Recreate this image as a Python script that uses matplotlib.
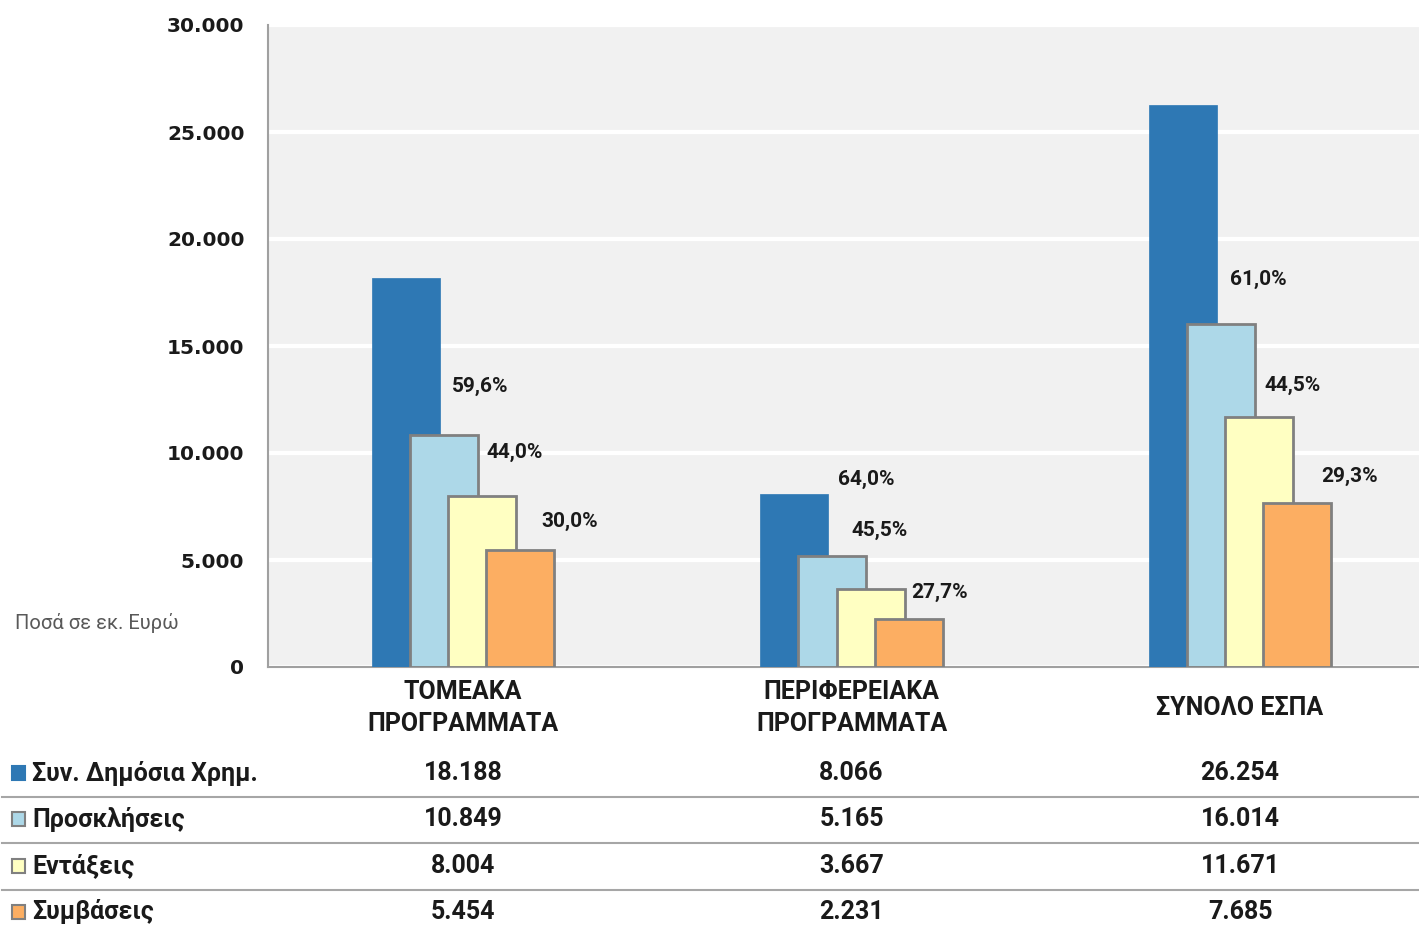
import matplotlib
matplotlib.use("Agg")
import matplotlib.pyplot as plt
from matplotlib.patches import Rectangle
from matplotlib.lines import Line2D
import numpy as np

# data (εκ. Ευρώ)
categories = ["ΤΟΜΕΑΚΑ\nΠΡΟΓΡΑΜΜΑΤΑ", "ΠΕΡΙΦΕΡΕΙΑΚΑ\nΠΡΟΓΡΑΜΜΑΤΑ", "ΣΥΝΟΛΟ ΕΣΠΑ"]
series_names = ["Συν. Δημόσια Χρημ.", "Προσκλήσεις", "Εντάξεις", "Συμβάσεις"]
dimosia = [18188, 8066, 26254]
proskliseis = [10849, 5165, 16014]
entaxeis = [8004, 3667, 11671]
symvaseis = [5454, 2231, 7685]
yticks = [0, 5000, 10000, 15000, 20000, 25000, 30000]

colors = ["#2e78b4", "#add8e8", "#ffffc2", "#fcae62"]
edges = [None, "#808080", "#808080", "#808080"]

# label offsets (pixels) from top of each bar, per group
pct_offsets = [
    [(36, 48), (33, 43), (50, 29)],
    [(34, 77), (9, 58), (31, 27)],
    [(37, 45), (34, 32), (52, 26)],
]

FONT = "Roboto"
W, H = 1419, 927
fig = plt.figure(figsize=(W / 100, H / 100), dpi=100)
ax_left, ax_right, ax_top, ax_bot = 268, 1419, 25, 667
ax = fig.add_axes([ax_left / W, 1 - ax_bot / H, (ax_right - ax_left) / W, (ax_bot - ax_top) / H])
ax.set_facecolor("#f1f1f1")

def fmt(v):
    return f"{v:,}".replace(",", ".")

series = [dimosia, proskliseis, entaxeis, symvaseis]
x = np.arange(len(categories))
width = 0.175
step = 0.098
for i, vals in enumerate(series):
    off = (i - 1.5) * step
    ax.bar(x + off, vals, width, color=colors[i],
           edgecolor=edges[i] if edges[i] else colors[i],
           linewidth=2 if edges[i] else 0.5, zorder=3 + i)

# percentage labels
for g in range(len(categories)):
    for k, vals in enumerate(series[1:]):
        pct = vals[g] / dimosia[g] * 100
        txt = f"{pct:.1f}%".replace(".", ",")
        dx, dy = pct_offsets[g][k]
        ax.annotate(txt, (x[g] + (k - 0.5) * step, vals[g]),
                    xytext=(dx, dy), textcoords="offset pixels",
                    ha="center", va="center", fontsize=15,
                    fontweight="bold", family=FONT, color="#1a1a1a", zorder=10)

ax.set_ylim(0, 30000)
ax.set_xlim(-0.502, -0.502 + (ax_right - ax_left) / 388.5)
ax.set_yticks(yticks)
ax.set_yticklabels([fmt(v) for v in yticks], fontsize=14.5, fontweight="bold",
                   family="DejaVu Sans", color="#1a1a1a")
ax.tick_params(axis="y", length=0, pad=17)
ax.set_xticks([])
ax.grid(axis="y", color="white", linewidth=3, zorder=1)
ax.set_axisbelow(True)
for s in ["top", "right"]:
    ax.spines[s].set_visible(False)
ax.spines["left"].set_color("#a0a0a0")
ax.spines["bottom"].set_color("#a0a0a0")
ax.spines["left"].set_linewidth(1.5)
ax.spines["bottom"].set_linewidth(1.5)

def ay(py):
    return (ax_bot - py) / (ax_bot - ax_top)

xt = ax.get_xaxis_transform()
for g, cat in enumerate(categories):
    ax.text(x[g], ay(708), cat, transform=xt, ha="center", va="center",
            fontsize=18, fontweight="bold", family=FONT, linespacing=1.45,
            color="#1a1a1a", clip_on=False)

fig.text(15 / W, 1 - 623 / H, "Ποσά σε εκ. Ευρώ", ha="left", va="center",
         fontsize=14.5, family=FONT, color="#595959")

# data table
row_y = [773, 819, 866, 912]
for r, name in enumerate(series_names):
    py = row_y[r]
    fig.add_artist(Rectangle((12 / W, 1 - (py + 7) / H), 13 / W, 14 / H,
                             transform=fig.transFigure, facecolor=colors[r],
                             edgecolor=edges[r] if edges[r] else colors[r],
                             linewidth=1.5))
    fig.text(32 / W, 1 - py / H, name, ha="left", va="center", fontsize=18,
             fontweight="bold", family=FONT, color="#1a1a1a")
    for g in range(len(categories)):
        ax.text(x[g], ay(py), fmt(series[r][g]), transform=xt, ha="center",
                va="center", fontsize=18, fontweight="bold", family=FONT,
                color="#1a1a1a", clip_on=False)
    if r < len(series_names) - 1:
        ly = 1 - (py + 24) / H
        fig.add_artist(Line2D([2 / W, 1], [ly, ly], transform=fig.transFigure,
                              color="#a6a6a6", linewidth=1.5))

fig.savefig("out.png", dpi=100)
